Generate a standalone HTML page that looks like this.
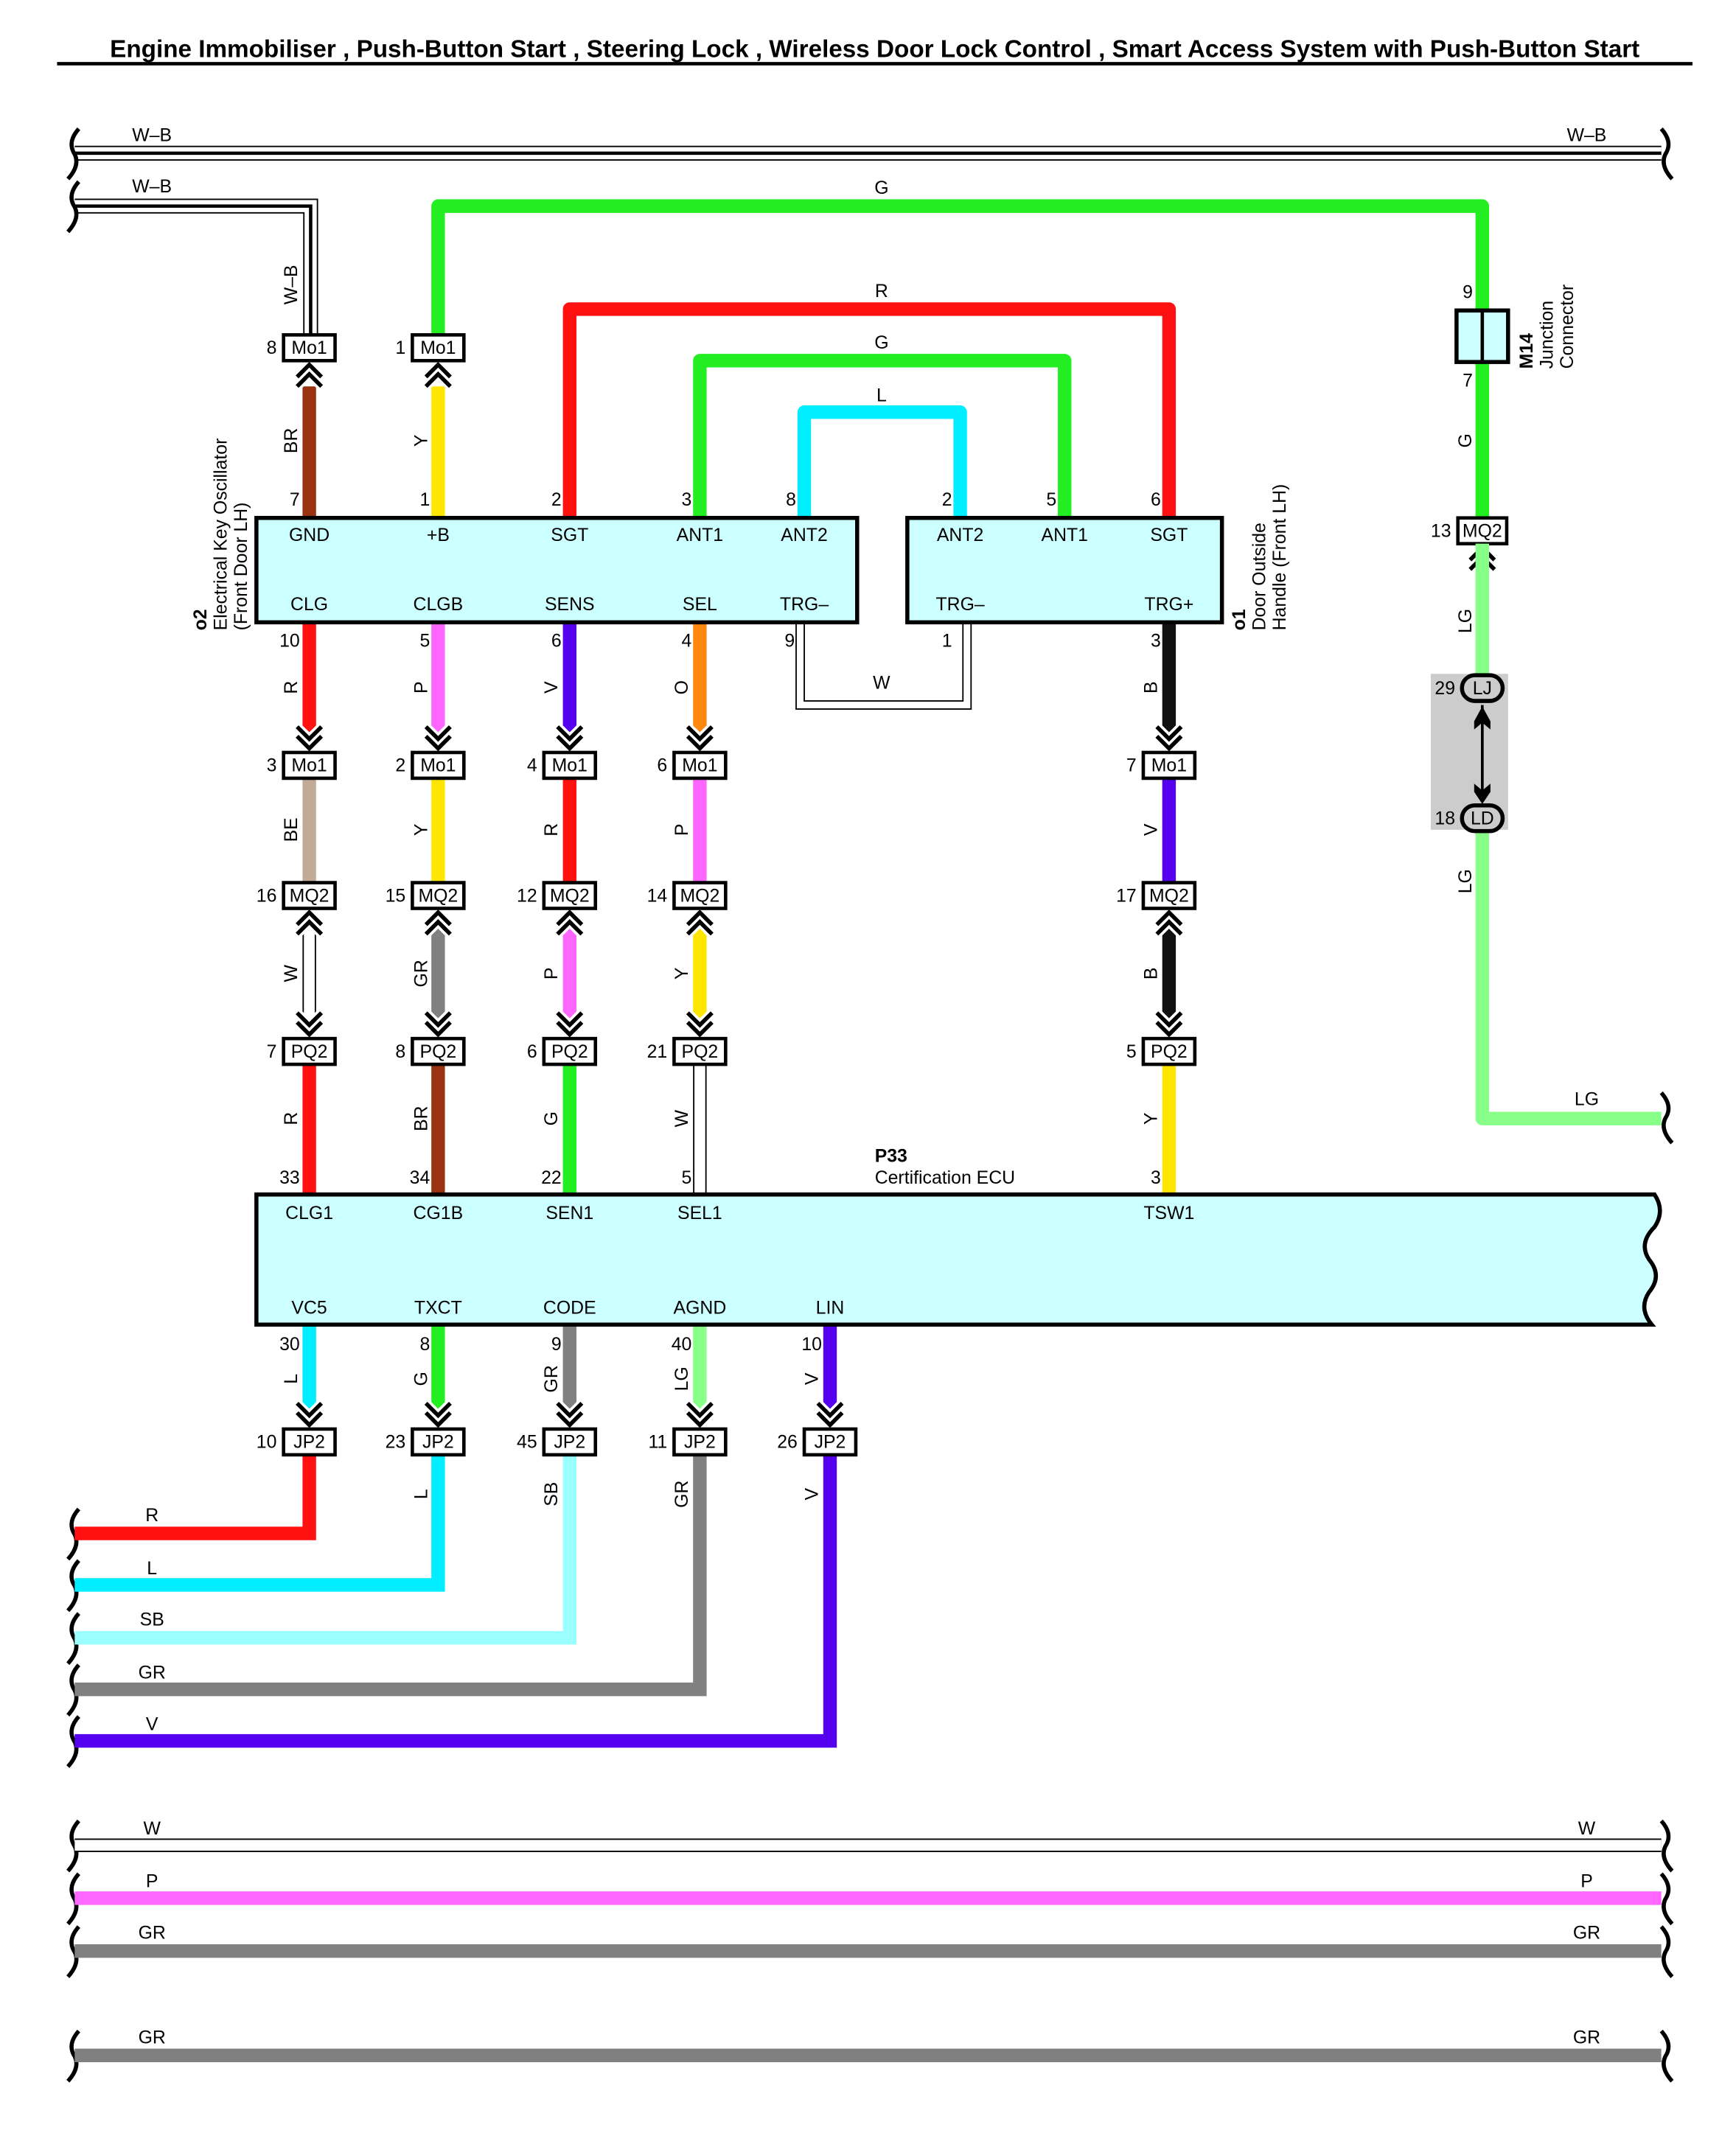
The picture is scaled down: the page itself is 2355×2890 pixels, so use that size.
<!DOCTYPE html>
<html><head><meta charset="utf-8"><style>
html,body{margin:0;padding:0;background:#fff}
svg{display:block}
text{font-family:"Liberation Sans",Arial,sans-serif;font-size:13.5px;fill:#000}
.t{font-size:14px}
.c{text-anchor:middle}
.e{text-anchor:end}
</style></head><body>
<svg width="2355" height="2890" viewBox="0 0 1280 1571" xmlns="http://www.w3.org/2000/svg">
<rect width="1280" height="1571" fill="#fff"/>
<text x="645" y="42" class="c" textLength="1128" lengthAdjust="spacingAndGlyphs" style="font-size:18px;font-weight:bold">Engine Immobiliser , Push-Button Start , Steering Lock , Wireless Door Lock Control , Smart Access System with Push-Button Start</text>
<line x1="42" y1="47" x2="1248" y2="47" stroke="#000" stroke-width="2.5"/>

<g fill="none" stroke-linejoin="miter">
<path d="M55,113 H1225" stroke="#000" stroke-width="11"/>
<path d="M55,113 H1225" stroke="#fff" stroke-width="9"/>
<path d="M55,113 H1225" stroke="#000" stroke-width="2.5"/>
<path d="M55,152 H229 V247" stroke="#000" stroke-width="11"/>
<path d="M55,152 H229 V247" stroke="#fff" stroke-width="9"/>
<path d="M55,152 H229 V247" stroke="#000" stroke-width="2.5"/>
</g>
<text x="112" y="104" class="c">W–B</text>
<text x="1170" y="104" class="c">W–B</text>
<text x="112" y="142" class="c">W–B</text>
<text transform="translate(219,210) rotate(-90)" class="c">W–B</text>

<g fill="none" stroke="#000" stroke-width="3">
<path d="M58,95 q-8,9 -4,17 q6,9 -4,20"/>
<path d="M58,134 q-8,9 -4,17 q6,9 -4,20"/>
<path d="M1225,95 q8,9 4,17 q-6,9 4,20"/>
<path d="M1225,806 q8,9 4,17 q-6,9 4,20"/>
<path d="M58,1113 q-8,9 -4,17 q6,9 -4,20"/>
<path d="M58,1151 q-8,9 -4,17 q6,9 -4,20"/>
<path d="M58,1190 q-8,9 -4,17 q6,9 -4,20"/>
<path d="M58,1228 q-8,9 -4,17 q6,9 -4,20"/>
<path d="M58,1266 q-8,9 -4,17 q6,9 -4,20"/>
<path d="M58,1343 q-8,9 -4,17 q6,9 -4,20"/>
<path d="M58,1382 q-8,9 -4,17 q6,9 -4,20"/>
<path d="M58,1421 q-8,9 -4,17 q6,9 -4,20"/>
<path d="M58,1498 q-8,9 -4,17 q6,9 -4,20"/>
<path d="M1225,1343 q8,9 4,17 q-6,9 4,20"/>
<path d="M1225,1382 q8,9 4,17 q-6,9 4,20"/>
<path d="M1225,1421 q8,9 4,17 q-6,9 4,20"/>
<path d="M1225,1498 q8,9 4,17 q-6,9 4,20"/>
</g>

<g fill="none" stroke-width="10" stroke-linejoin="round">
<path d="M323,247 V152 H1093 V230" stroke="#22ee22"/>
<path d="M420,382 V228 H862 V382" stroke="#ff1111"/>
<path d="M516,382 V266 H785 V382" stroke="#22ee22"/>
<path d="M593,382 V304 H708 V382" stroke="#00eeff"/>
<path d="M1093,267 V382" stroke="#22ee22"/>
<path d="M1093,401 V825 H1225" stroke="#88ff88"/>
<path d="M228,285 V382" stroke="#993311"/>
<path d="M323,285 V382" stroke="#ffe600"/>
</g>
<text x="650" y="143" class="c">G</text>
<text x="650" y="219" class="c">R</text>
<text x="650" y="257" class="c">G</text>
<text x="650" y="296" class="c">L</text>
<text x="1170" y="815" class="c">LG</text>
<text transform="translate(219,325) rotate(-90)" class="c">BR</text>
<text transform="translate(315,325) rotate(-90)" class="c">Y</text>
<text transform="translate(1085,325) rotate(-90)" class="c">G</text>
<text transform="translate(1085,458) rotate(-90)" class="c">LG</text>
<text transform="translate(1085,650) rotate(-90)" class="c">LG</text>

<path d="M590,459 V520 H713 V459" fill="none" stroke="#000" stroke-width="7"/>
<path d="M590,459 V520 H713 V459" fill="none" stroke="#fff" stroke-width="5"/>
<text x="650" y="508" class="c">W</text>
<text x="586" y="477" class="e">9</text>
<text x="702" y="477" class="e">1</text>

<g fill="none" stroke-width="10">
<path d="M228,459 V548" stroke="#ff1111"/>
<path d="M323,459 V548" stroke="#ff66ff"/>
<path d="M420,459 V548" stroke="#5500ee"/>
<path d="M516,459 V548" stroke="#ff8811"/>
<path d="M862,459 V548" stroke="#111"/>
<path d="M228,574 V651" stroke="#c2ab96"/>
<path d="M323,574 V651" stroke="#ffe600"/>
<path d="M420,574 V651" stroke="#ff1111"/>
<path d="M516,574 V651" stroke="#ff66ff"/>
<path d="M862,574 V651" stroke="#5500ee"/>
<path d="M323,680 V758" stroke="#808080"/>
<path d="M420,680 V758" stroke="#ff66ff"/>
<path d="M516,680 V758" stroke="#ffe600"/>
<path d="M862,680 V758" stroke="#111"/>
<path d="M228,785 V881" stroke="#ff1111"/>
<path d="M323,785 V881" stroke="#993311"/>
<path d="M420,785 V881" stroke="#22ee22"/>
<path d="M862,785 V881" stroke="#ffe600"/>
<path d="M228,977 V1047" stroke="#00eeff"/>
<path d="M323,977 V1047" stroke="#22ee22"/>
<path d="M420,977 V1047" stroke="#808080"/>
<path d="M516,977 V1047" stroke="#88ff88"/>
<path d="M612,977 V1047" stroke="#5500ee"/>
<path d="M228,1073 V1131 H55" stroke="#ff1111"/>
<path d="M323,1073 V1169 H55" stroke="#00eeff"/>
<path d="M420,1073 V1208 H55" stroke="#99ffff"/>
<path d="M516,1073 V1246 H55" stroke="#808080"/>
<path d="M612,1073 V1284 H55" stroke="#5500ee"/>
<path d="M55,1400 H1225" stroke="#ff66ff"/>
<path d="M55,1439 H1225" stroke="#808080"/>
<path d="M55,1516 H1225" stroke="#808080"/>
</g>
<g fill="none">
<path d="M228,680 V758" stroke="#000" stroke-width="10"/>
<path d="M228,680 V758" stroke="#fff" stroke-width="8"/>
<path d="M516,785 V881" stroke="#000" stroke-width="10"/>
<path d="M516,785 V881" stroke="#fff" stroke-width="8"/>
<path d="M55,1361 H1225" stroke="#000" stroke-width="10"/>
<path d="M55,1361 H1225" stroke="#fff" stroke-width="8"/>
</g>

<g>
<text transform="translate(219,507) rotate(-90)" class="c">R</text>
<text transform="translate(315,507) rotate(-90)" class="c">P</text>
<text transform="translate(411,507) rotate(-90)" class="c">V</text>
<text transform="translate(507,507) rotate(-90)" class="c">O</text>
<text transform="translate(853,507) rotate(-90)" class="c">B</text>
<text transform="translate(219,612) rotate(-90)" class="c">BE</text>
<text transform="translate(315,612) rotate(-90)" class="c">Y</text>
<text transform="translate(411,612) rotate(-90)" class="c">R</text>
<text transform="translate(507,612) rotate(-90)" class="c">P</text>
<text transform="translate(853,612) rotate(-90)" class="c">V</text>
<text transform="translate(219,718) rotate(-90)" class="c">W</text>
<text transform="translate(315,718) rotate(-90)" class="c">GR</text>
<text transform="translate(411,718) rotate(-90)" class="c">P</text>
<text transform="translate(507,718) rotate(-90)" class="c">Y</text>
<text transform="translate(853,718) rotate(-90)" class="c">B</text>
<text transform="translate(219,825) rotate(-90)" class="c">R</text>
<text transform="translate(315,825) rotate(-90)" class="c">BR</text>
<text transform="translate(411,825) rotate(-90)" class="c">G</text>
<text transform="translate(507,825) rotate(-90)" class="c">W</text>
<text transform="translate(853,825) rotate(-90)" class="c">Y</text>
<text transform="translate(219,1017) rotate(-90)" class="c">L</text>
<text transform="translate(315,1017) rotate(-90)" class="c">G</text>
<text transform="translate(411,1017) rotate(-90)" class="c">GR</text>
<text transform="translate(507,1017) rotate(-90)" class="c">LG</text>
<text transform="translate(603,1017) rotate(-90)" class="c">V</text>
<text transform="translate(315,1102) rotate(-90)" class="c">L</text>
<text transform="translate(411,1102) rotate(-90)" class="c">SB</text>
<text transform="translate(507,1102) rotate(-90)" class="c">GR</text>
<text transform="translate(603,1102) rotate(-90)" class="c">V</text>
</g>
<text x="112" y="1122" class="c">R</text>
<text x="112" y="1161" class="c">L</text>
<text x="112" y="1199" class="c">SB</text>
<text x="112" y="1238" class="c">GR</text>
<text x="112" y="1276" class="c">V</text>
<text x="112" y="1353" class="c">W</text>
<text x="1170" y="1353" class="c">W</text>
<text x="112" y="1392" class="c">P</text>
<text x="1170" y="1392" class="c">P</text>
<text x="112" y="1430" class="c">GR</text>
<text x="1170" y="1430" class="c">GR</text>
<text x="112" y="1507" class="c">GR</text>
<text x="1170" y="1507" class="c">GR</text>

<rect x="189" y="382" width="443" height="77" fill="#ccffff" stroke="#000" stroke-width="3"/>
<rect x="669" y="382" width="232" height="77" fill="#ccffff" stroke="#000" stroke-width="3"/>
<g class="t">
<text x="228" y="399" class="c">GND</text><text x="323" y="399" class="c">+B</text><text x="420" y="399" class="c">SGT</text><text x="516" y="399" class="c">ANT1</text><text x="593" y="399" class="c">ANT2</text>
<text x="228" y="450" class="c">CLG</text><text x="323" y="450" class="c">CLGB</text><text x="420" y="450" class="c">SENS</text><text x="516" y="450" class="c">SEL</text><text x="593" y="450" class="c">TRG–</text>
<text x="708" y="399" class="c">ANT2</text><text x="785" y="399" class="c">ANT1</text><text x="862" y="399" class="c">SGT</text>
<text x="708" y="450" class="c">TRG–</text><text x="862" y="450" class="c">TRG+</text>
</g>
<text x="221" y="373" class="e">7</text><text x="317" y="373" class="e">1</text><text x="414" y="373" class="e">2</text><text x="510" y="373" class="e">3</text><text x="587" y="373" class="e">8</text>
<text x="702" y="373" class="e">2</text><text x="779" y="373" class="e">5</text><text x="856" y="373" class="e">6</text>
<text x="221" y="477" class="e">10</text><text x="317" y="477" class="e">5</text><text x="414" y="477" class="e">6</text><text x="510" y="477" class="e">4</text><text x="856" y="477" class="e">3</text>
<text transform="translate(152,465) rotate(-90)" style="font-weight:bold">o2</text>
<text transform="translate(167,465) rotate(-90)">Electrical Key Oscillator</text>
<text transform="translate(182,465) rotate(-90)">(Front Door LH)</text>
<text transform="translate(918,465) rotate(-90)" style="font-weight:bold">o1</text>
<text transform="translate(933,465) rotate(-90)">Door Outside</text>
<text transform="translate(948,465) rotate(-90)">Handle (Front LH)</text>

<path d="M189,881 H1220 q8,12 0,24 q-12,12 -4,24 q10,12 0,24 q-8,12 2,24 H189 Z" fill="#ccffff" stroke="#000" stroke-width="3"/>
<text x="645" y="857" style="font-weight:bold">P33</text>
<text x="645" y="873">Certification ECU</text>
<g class="t">
<text x="228" y="899" class="c">CLG1</text><text x="323" y="899" class="c">CG1B</text><text x="420" y="899" class="c">SEN1</text><text x="516" y="899" class="c">SEL1</text><text x="862" y="899" class="c">TSW1</text>
<text x="228" y="969" class="c">VC5</text><text x="323" y="969" class="c">TXCT</text><text x="420" y="969" class="c">CODE</text><text x="516" y="969" class="c">AGND</text><text x="612" y="969" class="c">LIN</text>
</g>
<text x="221" y="873" class="e">33</text><text x="317" y="873" class="e">34</text><text x="414" y="873" class="e">22</text><text x="510" y="873" class="e">5</text><text x="856" y="873" class="e">3</text>
<text x="221" y="996" class="e">30</text><text x="317" y="996" class="e">8</text><text x="414" y="996" class="e">9</text><text x="510" y="996" class="e">40</text><text x="606" y="996" class="e">10</text>

<g fill="none" stroke-linejoin="miter">
<g stroke="#fff" stroke-width="7">
<path d="M219,278 l9,-9 l9,9 M219,285 l9,-9 l9,9 M314,278 l9,-9 l9,9 M314,285 l9,-9 l9,9"/>
<path d="M1084,413 l9,-9 l9,9 M1084,420 l9,-9 l9,9"/>
<path d="M219,536 l9,9 l9,-9 M219,543 l9,9 l9,-9 M314,536 l9,9 l9,-9 M314,543 l9,9 l9,-9 M411,536 l9,9 l9,-9 M411,543 l9,9 l9,-9 M507,536 l9,9 l9,-9 M507,543 l9,9 l9,-9 M853,536 l9,9 l9,-9 M853,543 l9,9 l9,-9"/>
<path d="M219,682 l9,-9 l9,9 M219,689 l9,-9 l9,9 M314,682 l9,-9 l9,9 M314,689 l9,-9 l9,9 M411,682 l9,-9 l9,9 M411,689 l9,-9 l9,9 M507,682 l9,-9 l9,9 M507,689 l9,-9 l9,9 M853,682 l9,-9 l9,9 M853,689 l9,-9 l9,9"/>
<path d="M219,747 l9,9 l9,-9 M219,754 l9,9 l9,-9 M314,747 l9,9 l9,-9 M314,754 l9,9 l9,-9 M411,747 l9,9 l9,-9 M411,754 l9,9 l9,-9 M507,747 l9,9 l9,-9 M507,754 l9,9 l9,-9 M853,747 l9,9 l9,-9 M853,754 l9,9 l9,-9"/>
<path d="M219,1035 l9,9 l9,-9 M219,1042 l9,9 l9,-9 M314,1035 l9,9 l9,-9 M314,1042 l9,9 l9,-9 M411,1035 l9,9 l9,-9 M411,1042 l9,9 l9,-9 M507,1035 l9,9 l9,-9 M507,1042 l9,9 l9,-9 M603,1035 l9,9 l9,-9 M603,1042 l9,9 l9,-9"/>
</g>
<g stroke="#000" stroke-width="3">
<path d="M219,278 l9,-9 l9,9 M219,285 l9,-9 l9,9 M314,278 l9,-9 l9,9 M314,285 l9,-9 l9,9"/>
<path d="M1084,413 l9,-9 l9,9 M1084,420 l9,-9 l9,9"/>
<path d="M219,536 l9,9 l9,-9 M219,543 l9,9 l9,-9 M314,536 l9,9 l9,-9 M314,543 l9,9 l9,-9 M411,536 l9,9 l9,-9 M411,543 l9,9 l9,-9 M507,536 l9,9 l9,-9 M507,543 l9,9 l9,-9 M853,536 l9,9 l9,-9 M853,543 l9,9 l9,-9"/>
<path d="M219,682 l9,-9 l9,9 M219,689 l9,-9 l9,9 M314,682 l9,-9 l9,9 M314,689 l9,-9 l9,9 M411,682 l9,-9 l9,9 M411,689 l9,-9 l9,9 M507,682 l9,-9 l9,9 M507,689 l9,-9 l9,9 M853,682 l9,-9 l9,9 M853,689 l9,-9 l9,9"/>
<path d="M219,747 l9,9 l9,-9 M219,754 l9,9 l9,-9 M314,747 l9,9 l9,-9 M314,754 l9,9 l9,-9 M411,747 l9,9 l9,-9 M411,754 l9,9 l9,-9 M507,747 l9,9 l9,-9 M507,754 l9,9 l9,-9 M853,747 l9,9 l9,-9 M853,754 l9,9 l9,-9"/>
<path d="M219,1035 l9,9 l9,-9 M219,1042 l9,9 l9,-9 M314,1035 l9,9 l9,-9 M314,1042 l9,9 l9,-9 M411,1035 l9,9 l9,-9 M411,1042 l9,9 l9,-9 M507,1035 l9,9 l9,-9 M507,1042 l9,9 l9,-9 M603,1035 l9,9 l9,-9 M603,1042 l9,9 l9,-9"/>
</g>
</g>

<g fill="#fff" stroke="#000" stroke-width="2.5">
<rect x="209" y="247" width="38" height="19"/><rect x="304" y="247" width="38" height="19"/>
<rect x="209" y="555" width="38" height="19"/><rect x="304" y="555" width="38" height="19"/><rect x="401" y="555" width="38" height="19"/><rect x="497" y="555" width="38" height="19"/><rect x="843" y="555" width="38" height="19"/>
<rect x="209" y="651" width="38" height="19"/><rect x="304" y="651" width="38" height="19"/><rect x="401" y="651" width="38" height="19"/><rect x="497" y="651" width="38" height="19"/><rect x="843" y="651" width="38" height="19"/>
<rect x="209" y="766" width="38" height="19"/><rect x="304" y="766" width="38" height="19"/><rect x="401" y="766" width="38" height="19"/><rect x="497" y="766" width="38" height="19"/><rect x="843" y="766" width="38" height="19"/>
<rect x="209" y="1054" width="38" height="19"/><rect x="304" y="1054" width="38" height="19"/><rect x="401" y="1054" width="38" height="19"/><rect x="497" y="1054" width="38" height="19"/><rect x="593" y="1054" width="38" height="19"/>
<rect x="1075" y="382" width="36" height="19"/>
</g>
<g class="c">
<text x="228" y="261">Mo1</text><text x="323" y="261">Mo1</text>
<text x="228" y="569">Mo1</text><text x="323" y="569">Mo1</text><text x="420" y="569">Mo1</text><text x="516" y="569">Mo1</text><text x="862" y="569">Mo1</text>
<text x="228" y="665">MQ2</text><text x="323" y="665">MQ2</text><text x="420" y="665">MQ2</text><text x="516" y="665">MQ2</text><text x="862" y="665">MQ2</text>
<text x="228" y="780">PQ2</text><text x="323" y="780">PQ2</text><text x="420" y="780">PQ2</text><text x="516" y="780">PQ2</text><text x="862" y="780">PQ2</text>
<text x="228" y="1068">JP2</text><text x="323" y="1068">JP2</text><text x="420" y="1068">JP2</text><text x="516" y="1068">JP2</text><text x="612" y="1068">JP2</text>
<text x="1093" y="396">MQ2</text>
</g>
<g class="e">
<text x="204" y="261">8</text><text x="299" y="261">1</text>
<text x="204" y="569">3</text><text x="299" y="569">2</text><text x="396" y="569">4</text><text x="492" y="569">6</text><text x="838" y="569">7</text>
<text x="204" y="665">16</text><text x="299" y="665">15</text><text x="396" y="665">12</text><text x="492" y="665">14</text><text x="838" y="665">17</text>
<text x="204" y="780">7</text><text x="299" y="780">8</text><text x="396" y="780">6</text><text x="492" y="780">21</text><text x="838" y="780">5</text>
<text x="204" y="1068">10</text><text x="299" y="1068">23</text><text x="396" y="1068">45</text><text x="492" y="1068">11</text><text x="588" y="1068">26</text>
<text x="1070" y="396">13</text>
</g>

<rect x="1074" y="229" width="38" height="38" fill="#ccffff" stroke="#000" stroke-width="3"/>
<line x1="1093" y1="229" x2="1093" y2="267" stroke="#000" stroke-width="2.5"/>
<text x="1086" y="220" class="e">9</text>
<text x="1086" y="285" class="e">7</text>
<text transform="translate(1130,272) rotate(-90)" style="font-weight:bold">M14</text>
<text transform="translate(1145,272) rotate(-90)">Junction</text>
<text transform="translate(1160,272) rotate(-90)">Connector</text>

<rect x="1055" y="497" width="57" height="115" fill="#cccccc"/>
<path d="M1093,401 V497" stroke="#88ff88" stroke-width="10"/>
<line x1="1093" y1="520" x2="1093" y2="590" stroke="#000" stroke-width="2"/>
<path d="M1087,532 L1093,521 L1099,532 L1099,538 L1093,533 L1087,538 Z" fill="#000"/>
<path d="M1087,578 L1093,583 L1099,578 L1099,584 L1093,593 L1087,584 Z" fill="#000"/>
<rect x="1078" y="498" width="30" height="19" rx="9.5" fill="#ccc" stroke="#000" stroke-width="3"/>
<rect x="1078" y="594" width="30" height="19" rx="9.5" fill="#ccc" stroke="#000" stroke-width="3"/>
<text x="1093" y="512" class="c">LJ</text>
<text x="1093" y="608" class="c">LD</text>
<text x="1073" y="512" class="e">29</text>
<text x="1073" y="608" class="e">18</text>
</svg>
</body></html>
